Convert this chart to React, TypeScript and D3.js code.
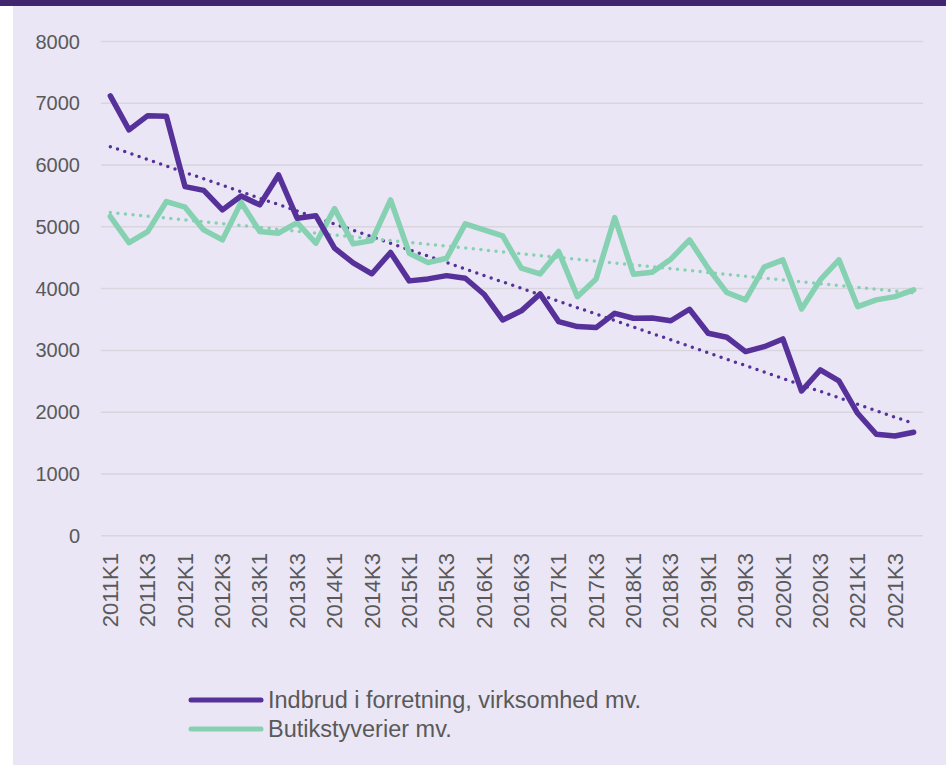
import React, { useRef, useEffect } from 'react';
import * as d3 from 'd3';

// quarters 2011K1 .. 2021K4
const years = d3.range(2011, 2022);
const quarters = years.flatMap(y => [1, 2, 3, 4].map(q => `${y}K${q}`));

const indbrud = [
  7120, 6570, 6800, 6790, 5650, 5590, 5275, 5500, 5355, 5840, 5140, 5180,
  4655, 4415, 4240, 4585, 4125, 4157, 4210, 4168, 3909, 3493, 3640, 3914,
  3466, 3385, 3369, 3600, 3520, 3525, 3480, 3666, 3277, 3212, 2980, 3060,
  3185, 2343, 2683, 2505, 1982, 1642, 1615, 1675,
];
const butik = [
  5166, 4745, 4923, 5409, 5318, 4950, 4789, 5393, 4923, 4897, 5069, 4735,
  5295, 4724, 4777, 5436, 4573, 4421, 4492, 5048, 4950, 4853, 4330, 4238,
  4600, 3870, 4157, 5150, 4233, 4266, 4476, 4789, 4330, 3936, 3817, 4347,
  4465, 3671, 4141, 4465, 3709, 3817, 3870, 3979,
];
const yTicks = [0, 1000, 2000, 3000, 4000, 5000, 6000, 7000, 8000];

const seriesNames = ['Indbrud i forretning, virksomhed mv.', 'Butikstyverier mv.'];
const colors = ['#563199', '#86D1B1'];

const W = 946;
const H = 765;

// least squares fit, used for the dotted trend lines
const fit = (vals: number[]) => {
  const xs = vals.map((_, i) => i);
  const mx = d3.mean(xs)!;
  const my = d3.mean(vals)!;
  const b = d3.sum(xs, (x, i) => (x - mx) * (vals[i] - my)) / d3.sum(xs, x => (x - mx) ** 2);
  const a = my - b * mx;
  return xs.map(x => a + b * x);
};

const App = () => {
  const svgRef = useRef<SVGSVGElement>(null);

  useEffect(() => {
    document.body.style.margin = '0';
    const svg = d3.select(svgRef.current);
    svg.selectAll('*').remove();

    const font = 'Liberation Sans, Arial, sans-serif';
    const textColor = '#595959';

    svg.append('rect').attr('x', 13).attr('y', 0).attr('width', W - 13).attr('height', H).attr('fill', '#EAE6F5');
    svg.append('rect').attr('x', 0).attr('y', 0).attr('width', W).attr('height', 6).attr('fill', '#42256F');

    const x = d3.scaleBand().domain(quarters).range([101, 923]);
    const y = d3.scaleLinear().domain([0, 8000]).range([535.7, 41.5]);
    const cx = (i: number) => x(quarters[i])! + x.bandwidth() / 2;

    // grid
    svg.append('g')
      .selectAll('line')
      .data(yTicks)
      .enter()
      .append('line')
      .attr('x1', 101)
      .attr('x2', 923)
      .attr('y1', d => y(d))
      .attr('y2', d => y(d))
      .attr('stroke', '#D9D5DD')
      .attr('stroke-width', 1.5);

    // y labels
    svg.append('g')
      .selectAll('text')
      .data(yTicks)
      .enter()
      .append('text')
      .attr('x', 80)
      .attr('y', d => y(d))
      .attr('dy', '0.35em')
      .attr('text-anchor', 'end')
      .attr('font-family', font)
      .attr('font-size', 20)
      .attr('fill', textColor)
      .text(d => d);

    // x labels, every second quarter
    svg.append('g')
      .selectAll('text')
      .data(quarters.filter((_, i) => i % 2 === 0))
      .enter()
      .append('text')
      .attr('transform', d => `translate(${x(d)! + x.bandwidth() / 2},553) rotate(-90)`)
      .attr('dy', '0.35em')
      .attr('text-anchor', 'end')
      .attr('font-family', font)
      .attr('font-size', 22)
      .attr('fill', textColor)
      .text(d => d);

    const line = d3.line<number>().x((_, i) => cx(i)).y(d => y(d));

    [indbrud, butik].forEach((vals, k) => {
      svg.append('path')
        .attr('d', line(fit(vals)))
        .attr('fill', 'none')
        .attr('stroke', colors[k])
        .attr('stroke-width', 3.5)
        .attr('stroke-linecap', 'round')
        .attr('stroke-dasharray', '0 7.6');
    });

    // draw green first so purple sits on top
    [butik, indbrud].forEach((vals, j) => {
      const k = 1 - j;
      svg.append('path')
        .attr('d', line(vals))
        .attr('fill', 'none')
        .attr('stroke', colors[k])
        .attr('stroke-width', 5.5)
        .attr('stroke-linejoin', 'round')
        .attr('stroke-linecap', 'round');
    });

    // legend
    const legend = svg.append('g');
    seriesNames.forEach((name, k) => {
      const ly = 700 + k * 29;
      legend.append('line')
        .attr('x1', 191).attr('x2', 261)
        .attr('y1', ly).attr('y2', ly)
        .attr('stroke', colors[k])
        .attr('stroke-width', 5)
        .attr('stroke-linecap', 'round');
      legend.append('text')
        .attr('x', 268)
        .attr('y', ly)
        .attr('dy', '0.35em')
        .attr('font-family', font)
        .attr('font-size', 23.5)
        .attr('fill', textColor)
        .text(name);
    });
  }, []);

  return (
    <div>
      <svg ref={svgRef} width={W} height={H} style={{ display: 'block' }} />
    </div>
  );
};

export default App;
